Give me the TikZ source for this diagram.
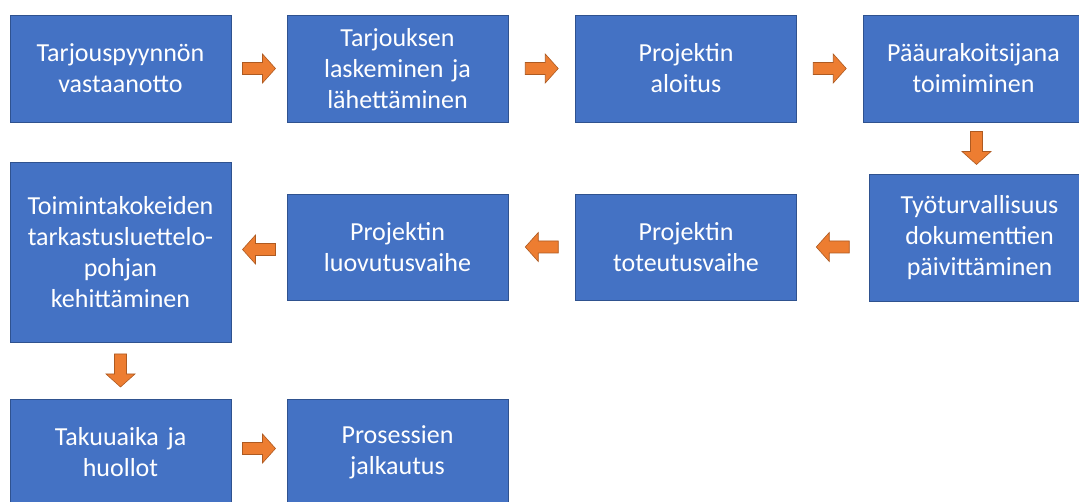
\documentclass[tikz,border=0pt]{standalone}
\usepackage{fontspec}
\setmainfont{Carlito}
\usetikzlibrary{calc}
\definecolor{boxblue}{HTML}{4472C4}
\definecolor{boxedge}{HTML}{2F528F}
\definecolor{arroworange}{HTML}{ED7D31}
\definecolor{arrowedge}{HTML}{AE5A21}
\tikzset{
  stepbox/.style={draw=boxedge, line width=0.8pt, fill=boxblue, text=white,
    minimum width=221pt, minimum height=107pt, inner sep=2pt,
    align=center, text width=214pt,
    font=\fontsize{26}{31}\selectfont},
  blockarrow/.pic={
    \draw[fill=arroworange, draw=arrowedge, line width=0.6pt, line join=miter]
      (-16.5,-6) -- (3.5,-6) -- (3.5,-14.5) -- (16.5,0) -- (3.5,14.5)
      -- (3.5,6) -- (-16.5,6) -- cycle;
  }
}
\begin{document}
\begin{tikzpicture}[x=1pt,y=-1pt]
\useasboundingbox[fill=white] (0,0) rectangle (1079,502);

% first row
\node[stepbox] (b1) at (120.5,68.5) {Tarjouspyynnön\\vastaanotto};
\node[stepbox] (b2) at (397.5,68.5) {Tarjouksen\\laskeminen ja\\lähettäminen};
\node[stepbox] (b3) at (686,68.5) {Projektin\\aloitus};
\node[stepbox] (b4) at (973.5,68.5) {Pääurakoitsijana\\toimiminen};

% second row
\node[stepbox, minimum height=127pt] (b5) at (979.5,237.5) {Työturvallisuus\\dokumenttien\\päivittäminen};
\node[stepbox, minimum height=106pt] (b6) at (686,247) {Projektin\\toteutusvaihe};
\node[stepbox, minimum height=106pt] (b7) at (397.5,247) {Projektin\\luovutusvaihe};
\node[stepbox, minimum height=180pt] (b8) at (120.5,252) {Toimintakokeiden\\tarkastusluettelo-\\pohjan\\kehittäminen};

% third row
\node[stepbox] (b9) at (120.5,452.5) {Takuuaika ja\\huollot};
\node[stepbox] (b10) at (397.5,452.5) {Prosessien\\jalkautus};

% connecting arrows
\pic at ($(b1.east)!0.5!(b2.west)$) {blockarrow};
\pic at ($(b2.east)!0.5!(b3.west)$) {blockarrow};
\pic at ($(b3.east)!0.5!(b4.west)$) {blockarrow};
\pic[rotate=-90] at ($(b4.south)!0.5!(b5.north)$) {blockarrow};
\pic[rotate=180] at ($(b6.east)!0.5!(b5.west |- b6.east)$) {blockarrow};
\pic[rotate=180] at ($(b7.east)!0.5!(b6.west)$) {blockarrow};
\pic[rotate=180] at ($(b8.east)!0.5!(b7.west)$) {blockarrow};
\pic[rotate=-90] at ($(b8.south)!0.5!(b9.north)$) {blockarrow};
\pic[yshift=4pt] at ($(b9.east)!0.5!(b10.west)$) {blockarrow};
\end{tikzpicture}
\end{document}
